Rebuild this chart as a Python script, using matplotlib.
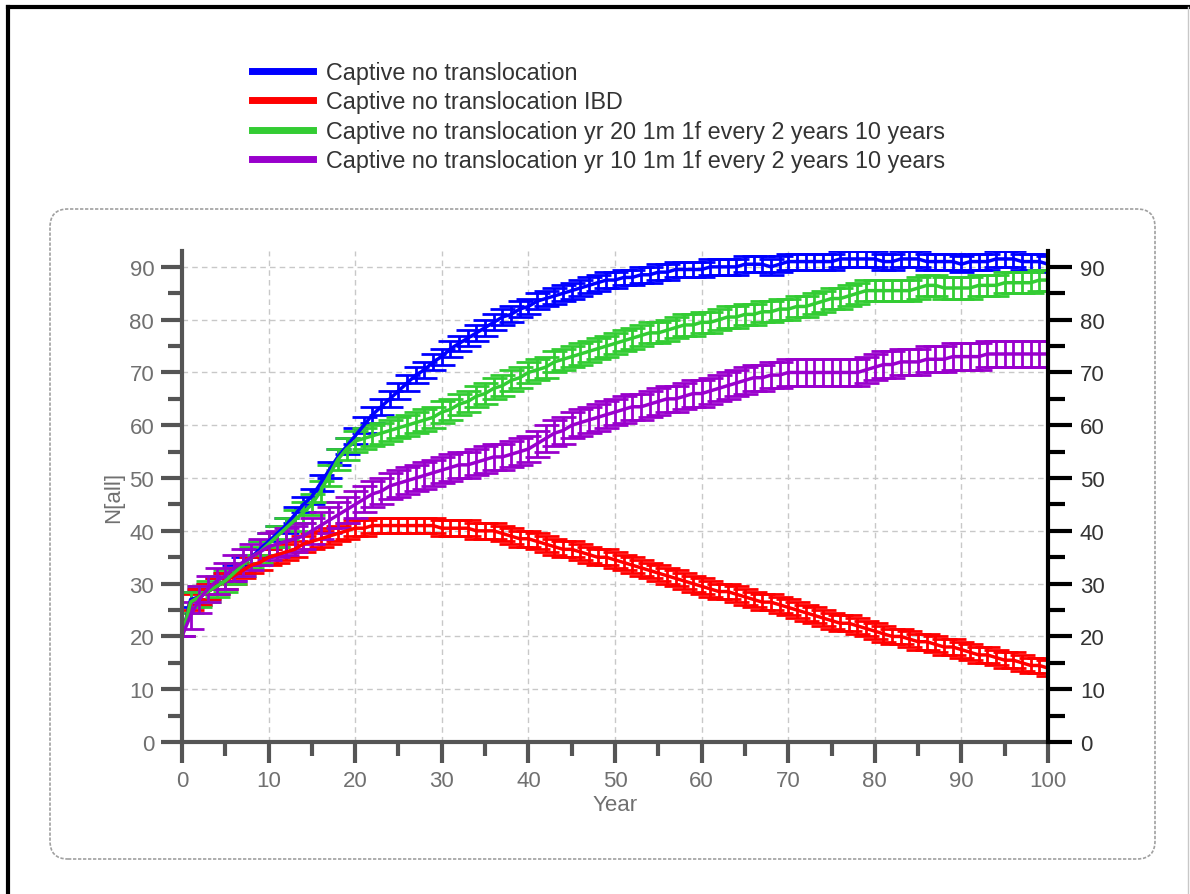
import matplotlib.pyplot as plt
from matplotlib.patches import FancyBboxPatch
from matplotlib.lines import Line2D
from matplotlib.ticker import MultipleLocator
from matplotlib.transforms import IdentityTransform

plt.rcParams['font.family'] = ['Liberation Sans', 'DejaVu Sans']

# Year 0..100
years = list(range(0, 101))

labels = [
    'Captive no translocation',
    'Captive no translocation IBD',
    'Captive no translocation yr 20 1m 1f every 2 years 10 years',
    'Captive no translocation yr 10 1m 1f every 2 years 10 years',
]
colors = ['#0000ff', '#ff0000', '#33cc33', '#9900cc']

# mean N[all] per year
n_base = [
    20, 27, 27.5, 28.5, 29.5, 30.5, 32, 33.5, 35, 36.5,
    38, 39.5, 41, 43, 45, 46.5, 49, 51.5, 54, 56,
    58, 60, 62, 63.5, 65, 66.5, 68, 69.5, 70.5, 72,
    73, 74.5, 75.5, 76.5, 77.5, 78.5, 79.5, 80.5, 81, 82,
    82.5, 83.5, 84, 84.5, 85, 85.5, 86, 86.5, 87, 87.5,
    87.5, 88, 88, 88.5, 88.5, 89, 89, 89.5, 89.5, 89.5,
    89.5, 90, 90, 90, 90, 90.5, 90.5, 90.5, 90, 90.5,
    91, 91, 91, 91, 91, 91, 91.5, 91.5, 91.5, 91.5,
    91.5, 91, 91, 91.5, 91.5, 91.5, 91, 91, 91, 91,
    90.5, 91, 91, 91, 91.5, 91.5, 91.5, 91, 91, 91,
    90.5,
]
n_ibd = [
    20, 26.5, 27.5, 28.5, 29.5, 30.5, 31.5, 32.5, 33.5, 34,
    35, 35.5, 36, 36.5, 37.5, 38, 38.5, 39, 39.5, 40,
    40.5, 40.5, 41, 41, 41, 41, 41, 41, 41, 41,
    40.5, 40.5, 40.5, 40.5, 40, 40, 40, 39.5, 39, 38.5,
    38.5, 38, 37.5, 37, 36.5, 36.5, 36, 35.5, 35, 35,
    34.5, 34, 33.5, 33, 32.5, 32, 31.5, 31, 30.5, 30,
    29.5, 29, 28.5, 28.5, 28, 27.5, 27, 26.5, 26.5, 26,
    25.5, 25, 24.5, 24, 23.5, 23, 22.5, 22.5, 22, 21.5,
    21, 20.5, 20, 20, 19.5, 19, 19, 18.5, 18, 18,
    17.5, 17, 16.5, 16.5, 16, 15.5, 15.5, 15, 14.5, 14.5,
    14,
]
n_yr20 = [
    20, 26.5, 27.5, 28.5, 29.5, 30.5, 32, 33.5, 35, 36,
    37.5, 39, 40.5, 42, 43.5, 45, 47.5, 50.5, 53.5, 55.5,
    57, 57.5, 58, 58.5, 59, 59.5, 60, 60.5, 61, 61.5,
    62.5, 63, 64, 64.5, 65.5, 66, 67, 67.5, 68.5, 69,
    70, 70.5, 71, 72, 72.5, 73, 73.5, 74, 74.5, 75,
    75.5, 76, 76.5, 77, 77.5, 77.5, 78, 78.5, 79, 79,
    79.5, 79.5, 80, 80.5, 80.5, 81, 81, 81.5, 81.5, 82,
    82, 82.5, 82.5, 83, 83.5, 84, 84, 84.5, 85, 85.5,
    85.5, 85.5, 85.5, 85.5, 85.5, 86, 86.5, 86.5, 86, 86,
    86, 86, 86.5, 86.5, 86.5, 87, 87, 87, 87, 87.5,
    87.5,
]
n_yr10 = [
    20, 24, 27, 29, 30.5, 31.5, 33, 34, 35, 36,
    37, 37.5, 38, 38.5, 39, 40, 41, 42, 43, 44,
    45, 46, 47, 47.5, 48.5, 49, 49.5, 50, 50.5, 51,
    51.5, 52, 52.5, 52.5, 53, 53.5, 54, 54, 54.5, 55,
    55.5, 56.5, 57.5, 58.5, 59, 60, 60.5, 61, 61.5, 62,
    62.5, 63, 63.5, 63.5, 64, 64.5, 65, 65, 65.5, 66,
    66, 66.5, 67, 67.5, 68, 68.5, 69, 69, 69.5, 69.5,
    70, 70, 70, 70, 70, 70, 70, 70, 70, 70.5,
    71, 71.5, 71.5, 72, 72, 72, 72.5, 72.5, 72.5, 73,
    73, 73, 73, 73.5, 73.5, 73.5, 73.5, 73.5, 73.5, 73.5,
    73.5,
]

# half width of the error bars per series
err_base = 1.5
err_ibd = 1.5
err_yr20 = 2.0
err_yr10 = 2.5

series = [n_base, n_ibd, n_yr20, n_yr10]
errors = [err_base, err_ibd, err_yr20, err_yr10]

fig = plt.figure(figsize=(11.9, 8.95), dpi=100)

# outer frame lines and rounded dashed box, in pixels
fig.add_artist(Line2D([8, 1190], [887, 887], color='black', lw=3, transform=IdentityTransform()))
fig.add_artist(Line2D([8, 8], [0, 887], color='black', lw=3, transform=IdentityTransform()))
fig.add_artist(Line2D([1188, 1188], [0, 887], color='#c8c8c8', lw=1, transform=IdentityTransform()))
box = FancyBboxPatch((50, 35), 1105, 650, boxstyle='round,pad=0,rounding_size=18',
                     transform=IdentityTransform(), fill=False, edgecolor='#a0a0a0',
                     lw=1.2, ls=(0, (2, 1)))
fig.add_artist(box)

ax = fig.add_axes([0.1529, 0.1698, 0.7278, 0.5486])

for vals, err, col, lab in zip(series, errors, colors, labels):
    yerr = [0] + [err] * (len(vals) - 1)
    ax.errorbar(years, vals, yerr=yerr, color=col, lw=2.5, elinewidth=2,
                capsize=9, capthick=2, label=lab)

ax.set_xlim(0, 100)
ax.set_ylim(0, 93)
ax.xaxis.set_major_locator(MultipleLocator(10))
ax.xaxis.set_minor_locator(MultipleLocator(5))
ax.yaxis.set_major_locator(MultipleLocator(10))
ax.yaxis.set_minor_locator(MultipleLocator(5))
ax.grid(True, which='major', color='#c8c8c8', ls=(0, (4, 3)), lw=1)
ax.set_axisbelow(True)

for s in ['top', 'right']:
    ax.spines[s].set_visible(False)
for s in ['left', 'bottom']:
    ax.spines[s].set_color('#555555')
    ax.spines[s].set_linewidth(3)

ax.tick_params(which='major', length=15, width=3, color='#555555',
               labelsize=16, labelcolor='#707070', pad=5)
ax.tick_params(which='minor', length=10, width=3, color='#555555')

ax.set_xlabel('Year', fontsize=16, color='#707070', labelpad=2)
ax.set_ylabel('N[all]', fontsize=16, color='#707070', labelpad=4)

# right hand axis, same scale
ax2 = ax.twinx()
ax2.set_ylim(ax.get_ylim())
ax2.yaxis.set_major_locator(MultipleLocator(10))
ax2.yaxis.set_minor_locator(MultipleLocator(5))
for s in ['top', 'left', 'bottom']:
    ax2.spines[s].set_visible(False)
ax2.spines['right'].set_color('black')
ax2.spines['right'].set_linewidth(3)
ax2.tick_params(which='major', length=17, width=3, color='black',
                labelsize=16, labelcolor='#333333', pad=6)
ax2.tick_params(which='minor', length=12, width=3, color='black')

handles = [Line2D([0], [0], color=c, lw=5) for c in colors]
fig.legend(handles, labels, loc='upper left', bbox_to_anchor=(0.2118, 0.931),
           frameon=False, fontsize=16.8, handlelength=2.6, handletextpad=0.55,
           labelspacing=0.28, borderpad=0, borderaxespad=0, labelcolor='#333333')

plt.savefig('out.png', dpi=100)
